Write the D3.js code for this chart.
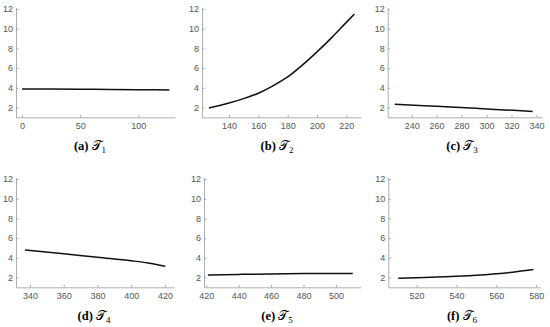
<!DOCTYPE html>
<html><head><meta charset="utf-8">
<script src="https://cdn.jsdelivr.net/npm/d3@7"></script>
<style>
body{margin:0;background:#fff;}
svg{display:block;}
.tick text{font-family:"Liberation Sans",Arial,sans-serif;font-size:9px;fill:#555;}
.cap{font-family:"Liberation Serif","DejaVu Serif",serif;font-size:12.5px;fill:#000;}
</style></head>
<body><svg id="c" width="550" height="327"></svg>
<script>
// ---- data ----
const labels = ["a","b","c","d","e","f"];
const subs = ["1","2","3","4","5","6"];
const yTicks = [2,4,6,8,10,12];
const ticksA = [0,50,100];
const ticksB = [140,160,180,200,220];
const ticksC = [240,260,280,300,320,340];
const ticksD = [340,360,380,400,420];
const ticksE = [420,440,460,480,500];
const ticksF = [520,540,560,580];
const xA = [0,25,50,75,100,126.6];
const yA = [3.88,3.87,3.85,3.83,3.81,3.78];
const xB = [126.3,140,150,160,170,180,190,200,210,220,225.5];
const yB = [1.95,2.45,2.9,3.45,4.2,5.1,6.3,7.65,9.1,10.65,11.5];
const xC = [226.5,250,275,300,325,337];
const yC = [2.33,2.18,2.02,1.85,1.68,1.58];
const xD = [337,360,380,400,410,420.2];
const yD = [4.8,4.42,4.05,3.7,3.48,3.15];
const xE = [421,440,460,480,500,510.4];
const yE = [2.24,2.31,2.36,2.39,2.4,2.41];
const xF = [510.8,520,530,540,550,560,570,578.6];
const yF = [1.93,1.98,2.05,2.12,2.22,2.38,2.58,2.8];
const xDomains = [[-5.2,131.5],[121.6,230],[220.8,344.2],[331.7,425.4],[418.6,515.3],[505.8,581.9]];
const yDomain = [1,12.15];

const series = [[xA,yA,ticksA],[xB,yB,ticksB],[xC,yC,ticksC],[xD,yD,ticksD],[xE,yE,ticksE],[xF,yF,ticksF]];
// ---- layout ----
const layout = [
  {x0:16, x1:175, top:0, cx:90},
  {x0:202, x1:361, top:0, cx:277},
  {x0:387.7, x1:541.7, top:0, cx:462},
  {x0:16, x1:174, top:170, cx:94},
  {x0:204, x1:360.7, top:170, cx:277},
  {x0:388.3, x1:540, top:170, cx:462}
];
const svg = d3.select("#c");
layout.forEach((L,i)=>{
  const [xs,ys,xt] = series[i];
  const g = svg.append("g").attr("transform",`translate(0,${L.top})`);
  const x = d3.scaleLinear().domain(xDomains[i]).range([L.x0,L.x1]);
  const y = d3.scaleLinear().domain(yDomain).range([117.3,7.6]);
  const yb = y(yDomain[0]);
  const gx = g.append("g").attr("transform",`translate(0,${yb})`)
    .call(d3.axisBottom(x).tickValues(xt).tickSizeInner(-2.5).tickSizeOuter(0).tickPadding(5).tickFormat(d3.format("d")));
  const gy = g.append("g").attr("transform",`translate(${L.x0},0)`)
    .call(d3.axisLeft(y).tickValues(yTicks).tickSizeInner(-2.5).tickSizeOuter(0).tickPadding(3).tickFormat(d3.format("d")));
  [gx,gy].forEach(a=>{
    a.select(".domain").attr("stroke","#9a9a9a").attr("stroke-width",0.8);
    a.selectAll(".tick line").attr("stroke","#9a9a9a").attr("stroke-width",0.8);
  });
  const pts = xs.map((v,k)=>[v,ys[k]]);
  g.append("path").datum(pts)
    .attr("d", d3.line().x(d=>x(d[0])).y(d=>y(d[1])).curve(d3.curveMonotoneX))
    .attr("fill","none").attr("stroke","#111").attr("stroke-width",1.5);
  const t = g.append("text").attr("class","cap").attr("x",L.cx).attr("y",150).attr("text-anchor","middle");
  t.append("tspan").attr("font-weight","bold").text("("+labels[i]+")");
  t.append("tspan").text(" ");
  t.append("tspan").text("\u{1D4AF}");
  t.append("tspan").attr("font-size","9px").attr("dy",2.5).attr("fill","#000").text(subs[i]);
});
</script></body></html>
